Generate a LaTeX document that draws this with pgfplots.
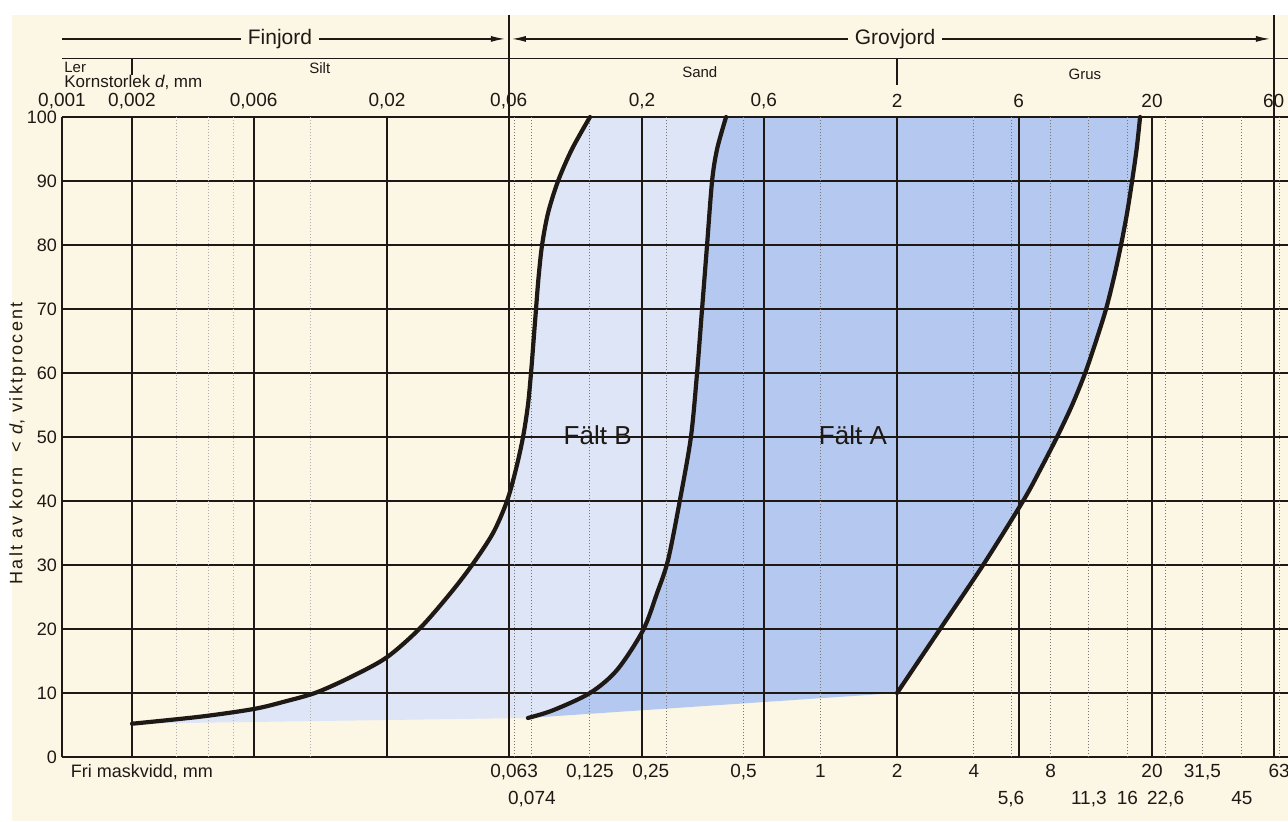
\documentclass[border=0pt]{standalone}
\usepackage{fontspec}
\setmainfont{Liberation Sans}
\usepackage{pgfplots}
\pgfplotsset{compat=1.18}
\usepackage{pgfplotstable}
\usepgfplotslibrary{fillbetween}
\usetikzlibrary{arrows.meta}

\definecolor{paper}{RGB}{252,246,229}
\definecolor{faltA}{RGB}{180,200,240}
\definecolor{faltB}{RGB}{221,229,246}
\definecolor{ink}{RGB}{30,25,20}
\pagecolor{paper}

% grain size d (mm) vs. percent passing
\pgfplotstableread{
d p
0.0020 5.2
0.0037 6.3
0.0060 7.5
0.0080 8.7
0.0106 10.1
0.0146 12.6
0.0200 15.6
0.0269 20.1
0.0353 25.5
0.0431 30.0
0.0521 35.0
0.0591 40.0
0.0641 45.0
0.0683 50.0
0.0714 55.0
0.0734 60.0
0.0751 65.0
0.0768 70.0
0.0786 75.0
0.0811 80.0
0.0856 85.0
0.0937 90.0
0.1063 95.0
0.1250 100.0
}\curveB

\pgfplotstableread{
d p
0.0714 6.1
0.0895 7.3
0.1250 10.0
0.1596 13.6
0.2018 19.8
0.2290 25.6
0.2530 30.8
0.2818 40.2
0.3110 50.0
0.3287 60.0
0.3439 70.0
0.3598 80.0
0.3765 90.0
0.3939 95.0
0.4271 100.0
}\curveM

\pgfplotstableread{
d p
2.00 10.0
2.95 20.0
4.35 30.0
6.24 40.0
7.31 45.0
8.48 50.0
9.72 55.0
10.93 60.0
12.06 65.0
13.20 70.0
14.19 75.0
15.11 80.0
15.96 85.0
16.70 90.0
17.40 95.0
17.95 100.0
}\curveA

\begin{document}
\begin{tikzpicture}
\fill[white] (-31pt,371pt) rectangle (614pt,378.5pt);
\fill[white] (-31pt,-32pt) rectangle (-25pt,378.5pt);
\begin{axis}[
  set layers,
  scale only axis, width=614pt, height=320pt,
  xmode=log, xmin=0.001063, xmax=69.5,
  ymin=0, ymax=100,
  clip=false,
  axis x line*=bottom, axis y line*=left,
  axis line style={ink, line width=1.4pt, -},
  major tick length=0pt, xminorticks=false,
  ytick={0,10,...,100},
  xtick={0.063,0.125,0.25,0.5,1,2,4,8,20,31.5,63},
  xticklabels={{0,063},{0,125},{\kern-16pt 0,25},{0,5},1,2,4,8,20,{31,5},63},
  extra x ticks={0.074,5.6,11.3,16,22.6,45},
  extra x tick labels={{0,074},{5,6},{11,3},16,{22,6},45},
  extra x tick style={tick label style={yshift=-13.5pt}},
  /pgf/number format/assume math mode=true,
  tick label style={font=\fontsize{9.5}{11}\selectfont, text=ink},
  yticklabel style={font=\fontsize{9}{10}\selectfont, xshift=1pt},
  ylabel={Halt av korn \ < \textit{d}, viktprocent},
  ylabel style={at={(axis description cs:-0.036,0.49)}, anchor=center,
    font=\fontsize{9}{10}\selectfont\addfontfeature{LetterSpace=13}, text=ink},
]
% invisible outlines for the filled fields
\addplot[draw=none, smooth, name path=B] table {\curveB};
\addplot[draw=none, smooth, name path=M] table {\curveM};
\addplot[draw=none, smooth, name path=A] table {\curveA};
\addplot[fill=faltB, draw=none, on layer=axis background] fill between[of=B and M];
\addplot[fill=faltA, draw=none, on layer=axis background] fill between[of=M and A];

% grid
\pgfplotsinvokeforeach{10,20,30,40,50,60,70,80,90,100}{
  \draw[ink, line width=0.65pt] (axis cs:0.001063,#1) -- (axis cs:69.5,#1);
}
\pgfplotsinvokeforeach{0.003,0.004,0.005,0.01}{
  \draw[ink!35, line width=0.5pt, dash pattern=on 0.6pt off 0.9pt] (axis cs:#1,0) -- (axis cs:#1,100);
}
\pgfplotsinvokeforeach{0.063,0.074,0.125,0.25,0.5,1,4,5.6,8,11.3,16,22.6,31.5,45,63}{
  \draw[ink!60, line width=0.5pt, dash pattern=on 0.6pt off 0.9pt] (axis cs:#1,0) -- (axis cs:#1,100);
}
\pgfplotsinvokeforeach{0.002,0.006,0.02,0.2,0.6,2,6,20}{
  \draw[ink, line width=1pt] (axis cs:#1,0) -- (axis cs:#1,100);
}
\draw[ink, line width=1pt] (axis cs:0.06,0) -- (axis cs:0.06,115.9);
\draw[ink, line width=1pt] (axis cs:60,0) -- (axis cs:60,115.9);

% grading curves
\addplot[ink, line width=2.1pt, line cap=round, smooth] table {\curveB};
\addplot[ink, line width=2.1pt, line cap=round, smooth] table {\curveM};
\addplot[ink, line width=2.1pt, line cap=round, smooth] table {\curveA};

\node[font=\fontsize{13}{15}\selectfont, text=ink] at (axis cs:0.134,50.3) {Fält B};
\node[font=\fontsize{13}{15}\selectfont, text=ink] at (axis cs:1.343,50.3) {Fält A};

% upper scale: fractions
\draw[ink, line width=0.6pt] (axis cs:0.001063,109.2) -- (axis cs:69.5,109.2);
\draw[ink, line width=0.8pt] (axis cs:0.002,109.2) -- (axis cs:0.002,106.6);
\draw[ink, line width=0.8pt] (axis cs:2,109.2) -- (axis cs:2,105);
\draw[ink, line width=0.6pt, -{Latex[length=7pt,width=3pt]}]
  (axis cs:0.001063,112.2) -- (axis cs:0.058,112.2);
\draw[ink, line width=0.6pt, {Latex[length=7pt,width=3pt]}-{Latex[length=7pt,width=3pt]}]
  (axis cs:0.0618,112.2) -- (axis cs:58,112.2);
\node[fill=paper, font=\fontsize{10.5}{12}\selectfont, text=ink] at (axis cs:0.00761,112.2) {Finjord};
\node[fill=paper, font=\fontsize{10.5}{12}\selectfont, text=ink] at (axis cs:1.964,112.2) {Grovjord};

\begin{scope}[font=\fontsize{7.5}{8}\selectfont, text=ink]
\node[anchor=west, inner sep=1pt] at (axis cs:0.001063,107.7) {Ler};
\node[anchor=west, inner sep=1pt, font=\fontsize{8.5}{9}\selectfont] at (axis cs:0.001063,105.4) {Kornstorlek \textit{d}, mm};
\node at (axis cs:0.0109,107.7) {Silt};
\node at (axis cs:0.337,107.0) {Sand};
\node at (axis cs:10.9,106.6) {Grus};
\end{scope}

\begin{scope}[font=\fontsize{9.5}{11}\selectfont, text=ink]
\node at (axis cs:0.001063,102.5) {0,001};
\node at (axis cs:0.002,102.5) {0,002};
\node at (axis cs:0.006,102.5) {0,006};
\node at (axis cs:0.02,102.5) {0,02};
\node at (axis cs:0.06,102.5) {0,06};
\node at (axis cs:0.2,102.5) {0,2};
\node at (axis cs:0.6,102.5) {0,6};
\node at (axis cs:2,102.5) {2};
\node at (axis cs:6,102.5) {6};
\node at (axis cs:20,102.5) {20};
\node at (axis cs:60,102.5) {60};
\node[anchor=north west, font=\fontsize{9}{10}\selectfont] at (axis cs:0.00108,0) {Fri maskvidd, mm};
\end{scope}
\end{axis}
\pgfresetboundingbox
\path[use as bounding box] (-31pt,-32pt) rectangle (613pt,378.5pt);
\end{tikzpicture}
\end{document}
